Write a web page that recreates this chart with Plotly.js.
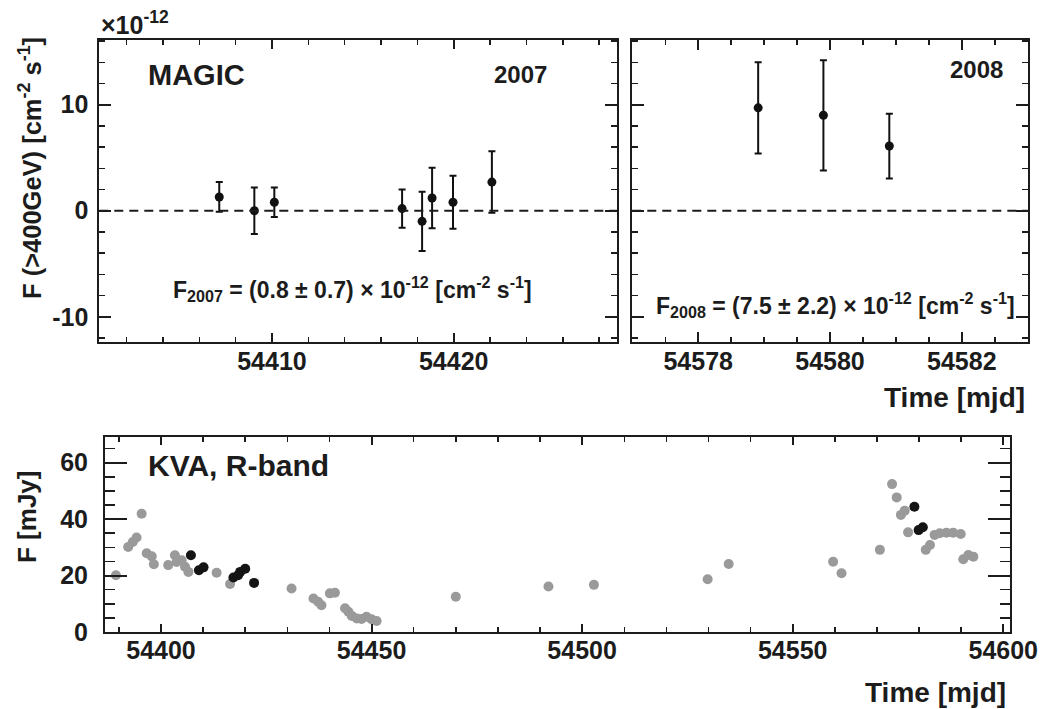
<!DOCTYPE html>
<html>
<head>
<meta charset="utf-8">
<script src="https://cdn.plot.ly/plotly-3.0.1.min.js"></script>
<style>
  html, body { margin: 0; padding: 0; background: #fff; }
  #chart { width: 1043px; height: 709px; }
</style>
</head>
<body>
<div id="chart"></div>
<script>
// MAGIC flux above 400 GeV, in units of 1e-12 cm^-2 s^-1
const mjd2007 = [54407.10, 54409.03, 54410.13, 54417.16, 54418.26, 54418.81, 54419.96, 54422.10];
const flux2007 = [1.3, 0.0, 0.8, 0.2, -1.0, 1.2, 0.8, 2.7];
const err2007 = [1.4, 2.2, 1.4, 1.8, 2.8, 2.85, 2.5, 2.9];

const mjd2008 = [54578.91, 54579.90, 54580.90];
const flux2008 = [9.7, 9.0, 6.1];
const err2008 = [4.3, 5.2, 3.05];

// flux tick labels of the MAGIC panels (plain hyphen for the minus sign)
const fluxTickVals = [-10, 0, 10];
const fluxTickText = ['-10', '0', '10'];

// KVA optical R-band light curve [mJy]
const kvaMjd = [54389.3, 54392.2, 54393.3, 54394.2, 54395.4, 54396.6, 54397.8, 54398.3,
  54401.7, 54403.3, 54403.7, 54404.9, 54405.7, 54406.5, 54413.2, 54416.4,
  54431.0, 54436.2, 54437.3, 54438.1, 54440.1, 54441.3, 54443.7, 54444.5,
  54445.3, 54446.5, 54447.6, 54448.8, 54450.0, 54451.2, 54470.0, 54492.0,
  54502.8, 54529.8, 54534.8, 54559.6, 54561.6, 54570.7, 54573.6, 54574.7,
  54575.7, 54576.6, 54577.4, 54581.6, 54582.6, 54583.7, 54584.9, 54586.5,
  54588.1, 54589.9, 54590.5, 54591.7, 54592.9];
const kvaFlux = [20.1, 30.1, 31.9, 33.5, 41.9, 27.9, 26.8, 24.0,
  23.7, 27.2, 24.8, 25.4, 23.1, 21.3, 21.0, 17.0,
  15.4, 11.9, 10.7, 9.5, 13.7, 13.9, 8.4, 7.2,
  5.7, 4.8, 4.6, 5.4, 4.5, 3.9, 12.5, 16.1,
  16.7, 18.7, 24.1, 24.9, 20.8, 29.1, 52.4, 47.7,
  41.5, 43.0, 35.3, 29.1, 30.8, 34.4, 35.0, 35.2,
  35.2, 34.7, 25.8, 27.3, 26.7];

// KVA points taken simultaneously with MAGIC
const kvaSimMjd = [54407.1, 54409.0, 54410.1, 54417.2, 54418.3, 54418.8, 54420.0, 54422.1,
  54578.9, 54579.9, 54580.9];
const kvaSimFlux = [27.2, 21.9, 22.9, 19.3, 20.1, 21.3, 22.4, 17.4, 44.4, 36.1, 37.1];

const zeroLevel = 0;

// time ranges of the three panels
const range2007 = [54400.5, 54429];
const range2008 = [54577, 54583];
const rangeKva = [54386.7, 54601.6];

const W = 1043, H = 709;
const px = x => x / W;
const py = y => 1 - y / H;

const ink = '#1c1c1c';
const FONT = 'Liberation Sans, Arial, Helvetica, sans-serif';
const tickFont = { family: FONT, size: 25, color: ink, weight: 700 };

function axisStyle(extra) {
  return Object.assign({
    showline: true, linecolor: ink, linewidth: 2, mirror: 'ticks',
    ticks: 'inside', tickcolor: ink, tickwidth: 2,
    showgrid: false, zeroline: false, fixedrange: true,
    tickfont: tickFont, tickmode: 'linear', tickformat: 'd'
  }, extra);
}

// label-only time axis, set at its own height so the numbers sit close
// to the frame
function labelAxis(base, y, extra) {
  return Object.assign({
    overlaying: base, anchor: 'free', position: py(y), side: 'bottom',
    showline: false, ticks: '', showgrid: false, zeroline: false, fixedrange: true,
    tickfont: tickFont, tickmode: 'linear', tickformat: 'd'
  }, extra);
}

const traces = [
  {
    x: mjd2007, y: flux2007, xaxis: 'x', yaxis: 'y', type: 'scatter', mode: 'markers',
    marker: { color: '#111', size: 9 },
    error_y: { type: 'data', array: err2007, visible: true, color: '#111', thickness: 2, width: 3.5 },
    hoverinfo: 'x+y'
  },
  {
    x: mjd2008, y: flux2008, xaxis: 'x2', yaxis: 'y2', type: 'scatter', mode: 'markers',
    marker: { color: '#111', size: 9 },
    error_y: { type: 'data', array: err2008, visible: true, color: '#111', thickness: 2, width: 3.5 },
    hoverinfo: 'x+y'
  },
  {
    x: kvaMjd, y: kvaFlux, xaxis: 'x3', yaxis: 'y3', type: 'scatter', mode: 'markers',
    marker: { color: '#9a9a9a', size: 10 }, hoverinfo: 'x+y'
  },
  {
    x: kvaSimMjd, y: kvaSimFlux, xaxis: 'x3', yaxis: 'y3', type: 'scatter', mode: 'markers',
    marker: { color: '#141414', size: 10 }, hoverinfo: 'x+y'
  },
  // empty traces that bring the label-only time axes into the figure
  { x: [], y: [], xaxis: 'x4', yaxis: 'y', type: 'scatter', mode: 'markers', hoverinfo: 'skip' },
  { x: [], y: [], xaxis: 'x5', yaxis: 'y2', type: 'scatter', mode: 'markers', hoverinfo: 'skip' },
  { x: [], y: [], xaxis: 'x6', yaxis: 'y3', type: 'scatter', mode: 'markers', hoverinfo: 'skip' }
];

const topY = { range: [-12.35, 16.1], tickmode: 'array', tickvals: fluxTickVals, ticktext: fluxTickText,
  ticklen: 12,
  minor: { ticks: 'inside', tick0: 0, dtick: 2, ticklen: 6, tickcolor: ink, tickwidth: 1.5 } };

const dashLine = (xr, yr) => ({
  type: 'line', xref: xr + ' domain', yref: yr, x0: 0, x1: 1, y0: zeroLevel, y1: zeroLevel,
  line: { color: ink, width: 2, dash: '9px,6px' }
});

function label(text, x, y, size, opts) {
  return Object.assign({
    text: text, xref: 'paper', yref: 'paper', x: px(x), y: py(y),
    showarrow: false, xanchor: 'center', yanchor: 'middle',
    font: { family: FONT, size: size, color: ink, weight: 700 }
  }, opts || {});
}

const dom2007 = [px(99.3), px(617.3)];
const dom2008 = [px(632.3), px(1027.7)];
const domKva = [px(105), px(1010)];

const layout = {
  width: W, height: H,
  margin: { l: 0, r: 0, t: 0, b: 0 },
  paper_bgcolor: '#fff', plot_bgcolor: '#fff',
  showlegend: false,
  xaxis: axisStyle({ domain: dom2007, anchor: 'y', range: range2007,
    tick0: 54400, dtick: 10, ticklen: 9, showticklabels: false,
    minor: { ticks: 'inside', tick0: 54400, dtick: 2, ticklen: 5, tickcolor: ink, tickwidth: 1.5 } }),
  xaxis4: labelAxis('x', 344, { domain: dom2007, range: range2007, tick0: 54400, dtick: 10 }),
  yaxis: axisStyle(Object.assign({ domain: [py(341.7), py(40)], anchor: 'x', ticklabelstandoff: 4 }, topY)),
  xaxis2: axisStyle({ domain: dom2008, anchor: 'y2', range: range2008,
    tick0: 54578, dtick: 2, ticklen: 10, showticklabels: false,
    minor: { ticks: 'inside', tick0: 54577, dtick: 0.5, ticklen: 5, tickcolor: ink, tickwidth: 1.5 } }),
  xaxis5: labelAxis('x2', 344, { domain: dom2008, range: range2008, tick0: 54578, dtick: 2 }),
  yaxis2: axisStyle(Object.assign({ domain: [py(341.7), py(40)], anchor: 'x2', showticklabels: false }, topY)),
  xaxis3: axisStyle({ domain: domKva, anchor: 'y3', range: rangeKva,
    tick0: 54400, dtick: 50, ticklen: 8, showticklabels: false,
    minor: { ticks: 'inside', tick0: 54400, dtick: 10, ticklen: 5, tickcolor: ink, tickwidth: 1.5 } }),
  xaxis6: labelAxis('x3', 633, { domain: domKva, range: rangeKva, tick0: 54400, dtick: 50 }),
  yaxis3: axisStyle({ domain: [py(632), py(436.7)], anchor: 'x3', range: [0, 69.2],
    tick0: 0, dtick: 20, ticklen: 22, ticklabelstandoff: 10,
    minor: { ticks: 'inside', tick0: 0, dtick: 5, ticklen: 10, tickcolor: ink, tickwidth: 1.5 } }),
  shapes: [dashLine('x', 'y'), dashLine('x2', 'y2')],
  annotations: [
    label('×10<sup>-12</sup>', 99, 23, 25, { xanchor: 'left' }),
    label('MAGIC', 146, 75, 29, { xanchor: 'left' }),
    label('2007', 549, 74, 24, { xanchor: 'right' }),
    label('2008', 1005, 70, 24, { xanchor: 'right' }),
    label('F<sub>2007</sub> = (0.8 ± 0.7) × 10<sup>-12</sup> [cm<sup>-2</sup> s<sup>-1</sup>]', 352, 289, 23),
    label('F<sub>2008</sub> = (7.5 ± 2.2) × 10<sup>-12</sup> [cm<sup>-2</sup> s<sup>-1</sup>]', 835, 305, 23),
    label('F (>400GeV) [cm<sup>-2</sup> s<sup>-1</sup>]', 30, 168, 25.5, { textangle: -90 }),
    label('Time [mjd]', 1027, 397, 28, { xanchor: 'right' }),
    label('KVA, R-band', 146, 465, 30, { xanchor: 'left' }),
    label('F [mJy]', 27, 517, 26, { textangle: -90 }),
    label('Time [mjd]', 1008, 692, 28, { xanchor: 'right' })
  ]
};

Plotly.newPlot('chart', traces, layout, { displayModeBar: false, staticPlot: true });
</script>
</body>
</html>
